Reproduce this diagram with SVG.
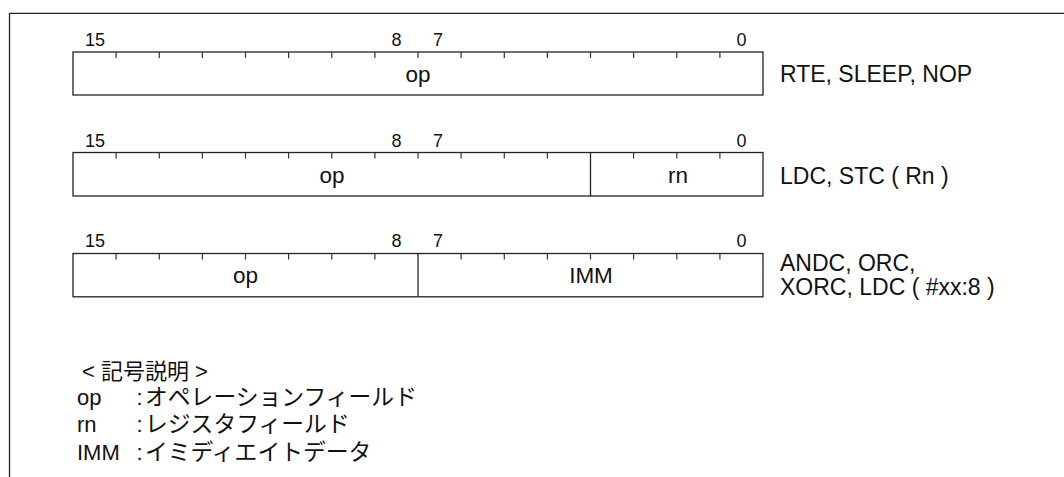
<svg xmlns="http://www.w3.org/2000/svg" width="1064" height="477" viewBox="0 0 1064 477">
<style>
.ln{fill:none;stroke:#222;stroke-width:1.3}
.tk{fill:none;stroke:#333;stroke-width:1.2}
.num{font-family:"Liberation Sans",Arial,sans-serif;font-size:18px;fill:#111}
.fld{font-family:"Liberation Sans",Arial,sans-serif;font-size:22.5px;fill:#111;text-anchor:middle}
.lbl{font-family:"Liberation Sans",Arial,sans-serif;font-size:23px;fill:#111}
.leg{font-family:"Liberation Sans","Noto Sans CJK JP",sans-serif;font-size:22px;fill:#111}
.kana{font-size:22.8px}
</style>
<rect width="1064" height="477" fill="#fff"/>
<g id="frame">
<path class="ln" d="M9.5,477 V13.3 H1064"/>
</g>
<g id="fmt1">
<text class="num" x="85" y="45.7">15</text>
<text class="num" x="391.5" y="45.7">8</text>
<text class="num" x="433" y="45.7">7</text>
<text class="num" x="736.5" y="45.7">0</text>
<rect class="ln" x="73" y="52" width="690" height="43"/>
<path class="tk" d="M116.1,52v6M159.3,52v6M202.4,52v6M245.5,52v6M288.6,52v6M331.8,52v6M374.9,52v6M418,52v6M461.1,52v6M504.3,52v6M547.4,52v6M590.5,52v6M633.6,52v6M676.8,52v6M719.9,52v6"/>
<text class="fld" x="418" y="81.5">op</text>
<text class="lbl" x="780" y="82.3">RTE, SLEEP, NOP</text>
</g>
<g id="fmt2">
<text class="num" x="85" y="146.7">15</text>
<text class="num" x="391.5" y="146.7">8</text>
<text class="num" x="433" y="146.7">7</text>
<text class="num" x="736.5" y="146.7">0</text>
<rect class="ln" x="73" y="152.5" width="690" height="43.5"/>
<path class="tk" d="M116.1,152.5v6M159.3,152.5v6M202.4,152.5v6M245.5,152.5v6M288.6,152.5v6M331.8,152.5v6M374.9,152.5v6M418,152.5v6M461.1,152.5v6M504.3,152.5v6M547.4,152.5v6M633.6,152.5v6M676.8,152.5v6M719.9,152.5v6"/>
<path class="ln" d="M590.5,152.5V196"/>
<text class="fld" x="332" y="183">op</text>
<text class="fld" x="678" y="183">rn</text>
<text class="lbl" x="780" y="184">LDC, STC ( Rn )</text>
</g>
<g id="fmt3">
<text class="num" x="85" y="246.7">15</text>
<text class="num" x="391.5" y="246.7">8</text>
<text class="num" x="433" y="246.7">7</text>
<text class="num" x="736.5" y="246.7">0</text>
<rect class="ln" x="73" y="253.5" width="690" height="43.3"/>
<path class="tk" d="M116.1,253.5v6M159.3,253.5v6M202.4,253.5v6M245.5,253.5v6M288.6,253.5v6M331.8,253.5v6M374.9,253.5v6M461.1,253.5v6M504.3,253.5v6M547.4,253.5v6M590.5,253.5v6M633.6,253.5v6M676.8,253.5v6M719.9,253.5v6"/>
<path class="ln" d="M418,253.5V296.8"/>
<text class="fld" x="245.5" y="282.5">op</text>
<text class="fld" x="591" y="282.5">IMM</text>
<text class="lbl" x="780" y="270.5">ANDC, ORC,</text>
<text class="lbl" x="780" y="295">XORC, LDC ( #xx:8 )</text>
</g>
<g id="legend">
<text class="leg" x="82" y="379">&lt; 記号説明 &gt;</text>
<text class="leg" x="77" y="405">op</text>
<text class="leg" x="136.5" y="405">:</text>
<text class="leg kana" x="145" y="405">オペレーションフィールド</text>
<text class="leg" x="77" y="432">rn</text>
<text class="leg" x="136.5" y="432">:</text>
<text class="leg kana" x="145" y="432">レジスタフィールド</text>
<text class="leg" x="77" y="459.5">IMM</text>
<text class="leg" x="136.5" y="459.5">:</text>
<text class="leg kana" x="145" y="459.5">イミディエイトデータ</text>
</g>
</svg>
